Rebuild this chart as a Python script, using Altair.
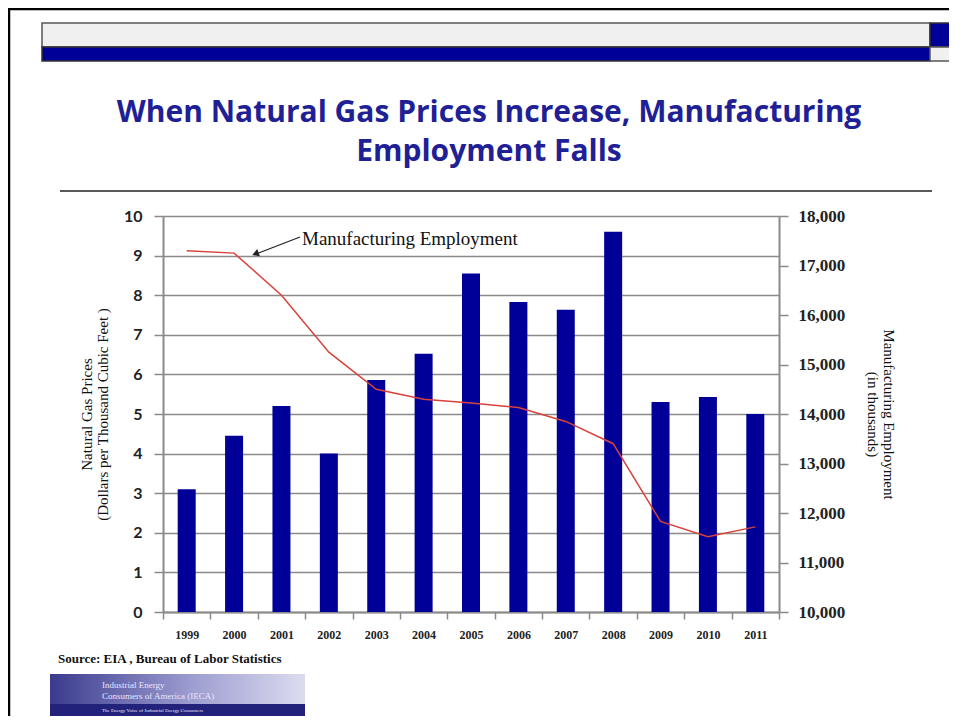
import altair as alt
import pandas as pd

years = ["1999", "2000", "2001", "2002", "2003", "2004", "2005",
         "2006", "2007", "2008", "2009", "2010", "2011"]
gas_price = [3.1, 4.45, 5.2, 4.0, 5.86, 6.52, 8.55, 7.83, 7.63, 9.6, 5.3, 5.43, 5.0]
employment = [17300, 17250, 16400, 15250, 14500, 14300, 14220, 14130,
              13850, 13400, 11830, 11520, 11720]

title_lines = ["When Natural Gas Prices Increase, Manufacturing", "Employment Falls"]
left_title = ["Natural Gas Prices", "(Dollars per Thousand Cubic Feet )"]
right_title = ["Manufacturing  Employment", "(in thousands)"]
source_text = "Source: EIA , Bureau of Labor  Statistics"
annotation_text = "Manufacturing  Employment"

df = pd.DataFrame({"year": years, "gas": gas_price, "emp": employment})

GRID = "#8a8a8a"
NAVY = "#000099"

x_enc = alt.X(
    "year:N",
    sort=years,
    scale=alt.Scale(paddingInner=0, paddingOuter=0),
    axis=alt.Axis(
        title=None, labelAngle=0, tickBand="extent", tickSize=7, tickWidth=1.5,
        tickColor=GRID, domainColor=GRID, domainWidth=2, labelPadding=10,
        labelFont="Liberation Serif", labelFontSize=12, labelFontWeight="bold",
        labelColor="#222222", grid=False,
    ),
)

bars = alt.Chart(df).mark_bar(size=18, color=NAVY).encode(
    x=x_enc,
    y=alt.Y(
        "gas:Q",
        scale=alt.Scale(domain=[0, 10], nice=False),
        axis=alt.Axis(
            values=list(range(0, 11)), grid=True, gridColor=GRID, gridWidth=1.5,
            domainColor=GRID, domainWidth=2, tickColor=GRID, tickSize=9, tickWidth=1.5,
            labelFont="Lato", labelFontSize=16, labelFontWeight="bold",
            labelColor="#222222", labelPadding=12,
            title=left_title, titleFont="Liberation Serif", titleFontSize=15,
            titleFontWeight="normal", titleColor="#111111", titlePadding=13,
            titleLineHeight=16,
        ),
    ),
)

line = alt.Chart(df).mark_line(color="#d9413b", strokeWidth=1.5).encode(
    x=alt.X("year:N", sort=years),
    y=alt.Y(
        "emp:Q",
        scale=alt.Scale(domain=[10000, 18000], nice=False),
        axis=alt.Axis(
            orient="right", values=list(range(10000, 18001, 1000)),
            labelExpr="format(datum.value, ',')",
            grid=False, domainColor=GRID, domainWidth=2, tickColor=GRID,
            tickSize=9, tickWidth=1.5, labelPadding=10,
            labelFont="Liberation Serif", labelFontSize=17, labelFontWeight="bold",
            labelColor="#222222",
            title=right_title, titleFont="Liberation Serif", titleFontSize=15,
            titleFontWeight="normal", titleColor="#111111", titlePadding=20,
            titleLineHeight=16,
        ),
    ),
)

one = alt.Data(values=[{}])


def rect(x, x2, y, y2, fill, stroke=None, sw=0):
    kw = dict(color=fill)
    if stroke:
        kw.update(stroke=stroke, strokeWidth=sw)
    return alt.Chart(one).mark_rect(**kw).encode(
        x=alt.value(x), x2=alt.value(x2), y=alt.value(y), y2=alt.value(y2))


def rule(x, x2, y, y2, color, sw):
    return alt.Chart(one).mark_rule(color=color, strokeWidth=sw).encode(
        x=alt.value(x), x2=alt.value(x2), y=alt.value(y), y2=alt.value(y2))


def text(t, x, y, size, font, color, weight="normal", align="left", baseline="alphabetic"):
    return alt.Chart(one).mark_text(
        text=t, fontSize=size, font=font, color=color, fontWeight=weight,
        align=align, baseline=baseline).encode(x=alt.value(x), y=alt.value(y))


# frame border (left and top)
frame = [
    rule(-155, 800, -207, -207, "#000000", 2.5),
    rule(-154, -154, -208, 520, "#000000", 2.5),
]

# banner
banner = [
    rect(-121, 767, -193, -169, "#f0f0f0", "#555555", 1.5),
    rect(-121, 767, -169, -155, NAVY, "#333333", 1.5),
    rect(767, 791, -193, -169, NAVY, "#333333", 1.5),
    rect(767, 791, -169, -155, "#f0f0f0", "#555555", 1.5),
]

TITLE_C = "#1f1f96"
titles = [
    text(title_lines[0], 326, -94, 30, "Open Sans", TITLE_C, "bold", "center"),
    text(title_lines[1], 326, -55, 30, "Open Sans", TITLE_C, "bold", "center"),
    rule(-103, 769, -25, -25, "#222222", 1.5),
]

# annotation
annot = [
    text(annotation_text, 139, 23, 19, "Liberation Serif", "#111111", "normal", "left", "middle"),
    rule(137, 93, 21, 38, "#222222", 1.3),
    alt.Chart(one).mark_point(shape="triangle", filled=True, size=60, color="#222222",
                              angle=249, opacity=1).encode(
        x=alt.value(93.5), y=alt.value(37.5)),
]

# source and logo
grad = alt.LinearGradient(
    gradient="linear",
    stops=[alt.GradientStop(color="#3a3a8e", offset=0),
           alt.GradientStop(color="#9c9cd0", offset=0.55),
           alt.GradientStop(color="#dcdcf0", offset=1)],
    x1=0, x2=1, y1=0, y2=0)

footer = [
    text(source_text, -105, 447, 13, "Liberation Serif", "#111111", "bold"),
    alt.Chart(one).mark_rect(color=grad).encode(
        x=alt.value(-113), x2=alt.value(142), y=alt.value(458), y2=alt.value(500)),
    rect(-113, 142, 488, 500, "#22227a"),
    text("Industrial Energy", -61, 472, 9, "Liberation Serif", "#e6e6ff"),
    text("Consumers of America (IECA)", -61, 483, 9, "Liberation Serif", "#e6e6ff"),
    text("The Energy Voice of Industrial Energy Consumers", -61, 496, 5, "Liberation Serif", "#e6e6ff"),
]

chart = alt.layer(
    *frame, *banner, *titles, bars, line, *annot, *footer
).resolve_scale(y="independent").properties(
    width=616, height=396,
    autosize=alt.AutoSizeParams(type="none"),
    padding={"left": 155, "top": 208, "right": 170, "bottom": 104},
).configure_view(strokeWidth=0).configure(background="white")

chart.save("out.html", embed_options={"renderer": "svg", "actions": False})
